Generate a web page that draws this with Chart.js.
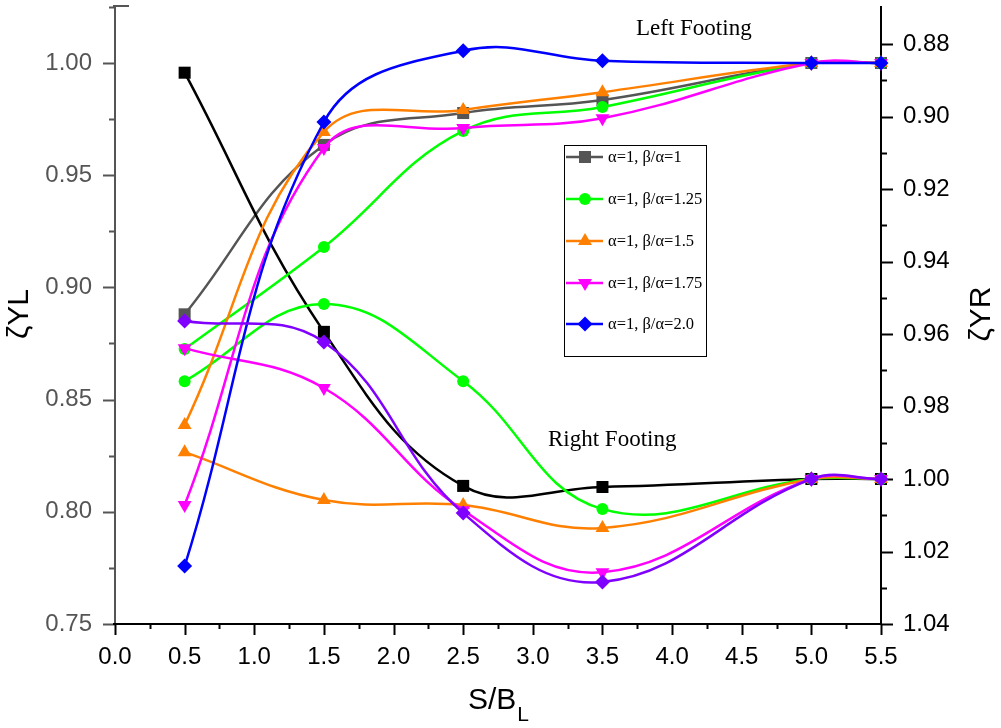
<!DOCTYPE html>
<html><head><meta charset="utf-8">
<script src="https://cdn.jsdelivr.net/npm/chart.js@4.4.0/dist/chart.umd.min.js"></script>
<style>html,body{margin:0;padding:0;background:#fff;}canvas{display:block;}</style>
</head><body>
<canvas id="c" width="1001" height="728"></canvas>
<script>
// ---------- data ----------
const xValues = [0.5, 1.5, 2.5, 3.5, 5.0, 5.5];
const xTickValues = [0, 0.5, 1.0, 1.5, 2.0, 2.5, 3.0, 3.5, 4.0, 4.5, 5.0, 5.5];
const leftTickValues = [0.75, 0.80, 0.85, 0.90, 0.95, 1.00];
const rightTickValues = [0.88, 0.90, 0.92, 0.94, 0.96, 0.98, 1.00, 1.02, 1.04];
const legendLabels = ['α=1, β/α=1', 'α=1, β/α=1.25', 'α=1, β/α=1.5', 'α=1, β/α=1.75', 'α=1, β/α=2.0'];

// Left footing (left axis, ζYL)
const leftB100 = [0.888, 0.9635, 0.9777, 0.9835, 1.000, 1.000];
const leftB125 = [0.8725, 0.918, 0.9697, 0.9804, 1.000, 1.000];
const leftB150 = [0.8387, 0.9693, 0.9791, 0.987, 1.000, 1.000];
const leftB175 = [0.803, 0.9621, 0.971, 0.9754, 1.000, 1.000];
const leftB200 = [0.7758, 0.9737, 1.0055, 1.001, 1.000, 1.000];

// Right footing (right axis, ζYR, reversed)
const rightB100 = [0.8879, 0.9594, 1.0019, 1.0022, 1.000, 1.000];
const rightB125 = [0.973, 0.9517, 0.973, 1.0083, 1.000, 1.000];
const rightB150 = [0.9926, 1.0058, 1.0072, 1.0135, 1.000, 1.000];
const rightB175 = [0.9639, 0.9749, 1.0086, 1.0257, 1.000, 1.000];
const rightB200 = [0.9564, 0.9622, 1.0094, 1.0284, 1.000, 1.000];

// ---------- styles ----------
const GRAY = '#555555', GREEN = '#00ff00', ORANGE = '#ff8000', MAGENTA = '#ff00ff',
      BLUE = '#0000ff', PURPLE = '#8000ff', BLACK = '#000000';

function pts(arr) { return arr.map((v, i) => ({ x: xValues[i], y: v })); }
function ds(label, arr, color, shape, axis, radius, rot) {
  return {
    label, data: pts(arr), yAxisID: axis,
    borderColor: color, backgroundColor: color,
    pointBackgroundColor: color, pointBorderColor: color,
    pointStyle: shape, pointRadius: radius, pointRotation: rot || 0,
    pointBorderWidth: 0, borderWidth: 2.5, tension: 0.4, clip: false,
  };
}

const datasets = [
  ds('R 2.0', rightB200, PURPLE, 'rectRot', 'y2', 7.5),
  ds('L 2.0', leftB200, BLUE, 'rectRot', 'y', 7.5),
  ds('R 1.75', rightB175, MAGENTA, 'triangle', 'y2', 8, 180),
  ds('L 1.75', leftB175, MAGENTA, 'triangle', 'y', 8, 180),
  ds('R 1.5', rightB150, ORANGE, 'triangle', 'y2', 8),
  ds('L 1.5', leftB150, ORANGE, 'triangle', 'y', 8),
  ds('R 1.25', rightB125, GREEN, 'circle', 'y2', 6),
  ds('L 1.25', leftB125, GREEN, 'circle', 'y', 6),
  ds('R 1', rightB100, BLACK, 'rect', 'y2', 8.5),
  ds('L 1', leftB100, GRAY, 'rect', 'y', 8.5),
];

const legendStyles = [
  { color: GRAY, shape: 'rect' },
  { color: GREEN, shape: 'circle' },
  { color: ORANGE, shape: 'triangle' },
  { color: MAGENTA, shape: 'down' },
  { color: BLUE, shape: 'diamond' },
];

function drawMarker(ctx, shape, x, y, color) {
  ctx.save();
  ctx.fillStyle = color;
  ctx.beginPath();
  if (shape === 'rect') { ctx.rect(x - 6, y - 6, 12, 12); }
  else if (shape === 'circle') { ctx.arc(x, y, 6, 0, Math.PI * 2); }
  else if (shape === 'triangle') { ctx.moveTo(x, y - 8); ctx.lineTo(x + 7, y + 4); ctx.lineTo(x - 7, y + 4); ctx.closePath(); }
  else if (shape === 'down') { ctx.moveTo(x, y + 8); ctx.lineTo(x + 7, y - 4); ctx.lineTo(x - 7, y - 4); ctx.closePath(); }
  else if (shape === 'diamond') { ctx.moveTo(x, y - 7.5); ctx.lineTo(x + 7.5, y); ctx.lineTo(x, y + 7.5); ctx.lineTo(x - 7.5, y); ctx.closePath(); }
  ctx.fill();
  ctx.restore();
}

const framePlugin = {
  id: 'frame',
  beforeDatasetsDraw(chart) {
    const ctx = chart.ctx, a = chart.chartArea;
    const xs = chart.scales.x, yl = chart.scales.y, yr = chart.scales.y2;
    ctx.save();
    ctx.lineCap = 'butt';
    // left axis (gray)
    ctx.strokeStyle = '#555555'; ctx.lineWidth = 2;
    ctx.beginPath(); ctx.moveTo(a.left, a.top); ctx.lineTo(a.left, a.bottom); ctx.stroke();
    ctx.beginPath(); ctx.moveTo(a.left - 2, a.top); ctx.lineTo(a.left + 14, a.top); ctx.stroke();
    for (let v = 0.75; v <= 1.0251; v += 0.025) {
      const major = Math.abs(Math.round(v / 0.05) * 0.05 - v) < 1e-6;
      const py = Math.round(yl.getPixelForValue(v)) + 0.5;
      ctx.beginPath(); ctx.moveTo(a.left, py); ctx.lineTo(a.left - (major ? 12 : 6), py); ctx.stroke();
    }
    // right axis (black)
    ctx.strokeStyle = '#000000';
    ctx.beginPath(); ctx.moveTo(a.right, a.top); ctx.lineTo(a.right, a.bottom); ctx.stroke();
    for (let k = 0; k <= 16; k++) {
      const v = 0.88 + k * 0.01;
      const major = k % 2 === 0;
      const py = Math.round(yr.getPixelForValue(v)) + 0.5;
      ctx.beginPath(); ctx.moveTo(a.right, py); ctx.lineTo(a.right + (major ? 12 : 6), py); ctx.stroke();
    }
    // bottom axis
    ctx.beginPath(); ctx.moveTo(a.left - 2, a.bottom); ctx.lineTo(a.right + 1, a.bottom); ctx.stroke();
    for (let k = 0; k <= 22; k++) {
      const v = k * 0.25;
      const major = k % 2 === 0;
      const px = Math.round(xs.getPixelForValue(v)) + 0.5;
      ctx.beginPath(); ctx.moveTo(px, a.bottom); ctx.lineTo(px, a.bottom + (major ? 11 : 5)); ctx.stroke();
    }
    ctx.restore();
  },
  afterDraw(chart) {
    const ctx = chart.ctx, a = chart.chartArea;
    ctx.save();
    // axis titles
    ctx.fillStyle = '#000';
    ctx.font = '30px "Liberation Sans", Arial, sans-serif';
    ctx.textAlign = 'center'; ctx.textBaseline = 'middle';
    ctx.save(); ctx.translate(20, 314); ctx.rotate(-Math.PI / 2); ctx.fillText('ζYL', 0, 0); ctx.restore();
    ctx.save(); ctx.translate(982, 314); ctx.rotate(-Math.PI / 2); ctx.fillText('ζYR', 0, 0); ctx.restore();
    // x title with subscript
    const cx = (a.left + a.right) / 2;
    ctx.textBaseline = 'alphabetic'; ctx.textAlign = 'left';
    const main = 'S/B';
    ctx.font = '30px "Liberation Sans", Arial, sans-serif';
    const w1 = ctx.measureText(main).width;
    ctx.font = '21px "Liberation Sans", Arial, sans-serif';
    const w2 = ctx.measureText('L').width;
    const sx = cx - (w1 + w2) / 2;
    ctx.font = '30px "Liberation Sans", Arial, sans-serif';
    ctx.fillText(main, sx, 709);
    ctx.font = '21px "Liberation Sans", Arial, sans-serif';
    ctx.fillText('L', sx + w1 + 1, 721);
    // annotations
    ctx.font = '23px "Liberation Serif", "Times New Roman", serif';
    ctx.textBaseline = 'middle';
    ctx.fillText('Left Footing', 636, 29);
    ctx.fillText('Right Footing', 548, 440);
    // legend
    ctx.fillStyle = '#fff';
    ctx.fillRect(564, 145, 143, 212);
    ctx.strokeStyle = '#000'; ctx.lineWidth = 1;
    ctx.strokeRect(564.5, 145.5, 142, 211);
    const rows = [157, 199, 241, 283, 324];
    ctx.font = '16.5px "Liberation Serif", "Times New Roman", serif';
    legendStyles.forEach((s, i) => {
      const y = rows[i];
      ctx.strokeStyle = s.color; ctx.lineWidth = 2.5;
      ctx.beginPath(); ctx.moveTo(566, y); ctx.lineTo(603, y); ctx.stroke();
      drawMarker(ctx, s.shape, 585, y, s.color);
      ctx.fillStyle = '#000';
      ctx.textAlign = 'left'; ctx.textBaseline = 'middle';
      ctx.fillText(legendLabels[i], 608, y + 1);
    });
    ctx.restore();
  }
};

const tickFont = { family: '"Liberation Sans", Arial, sans-serif', size: 24 };
const hiddenGrid = (len) => ({ display: false, drawTicks: true, tickLength: len, color: 'rgba(0,0,0,0)' });
const noPad = s => { s.paddingTop = 0; s.paddingBottom = 0; s.paddingLeft = 0; s.paddingRight = 0; };

new Chart(document.getElementById('c'), {
  type: 'line',
  data: { datasets },
  options: {
    responsive: false, animation: false,
    layout: { autoPadding: false, padding: { top: 6, left: 0, right: 0, bottom: 0 } },
    plugins: { legend: { display: false }, tooltip: { enabled: false } },
    scales: {
      x: {
        type: 'linear', min: 0, max: 5.5,
        afterBuildTicks: s => { s.ticks = xTickValues.map(v => ({ value: v })); },
        afterFit: s => { s.height = 104; noPad(s); },
        grid: hiddenGrid(19), border: { display: false },
        ticks: { font: tickFont, color: '#000', padding: 0, maxRotation: 0, autoSkip: false,
                 callback: v => Number(v).toFixed(1) },
      },
      y: {
        type: 'linear', position: 'left', min: 0.75, max: 1.0254,
        afterBuildTicks: s => { s.ticks = leftTickValues.map(v => ({ value: v })); },
        afterFit: s => { s.width = 115; noPad(s); },
        grid: hiddenGrid(23), border: { display: false },
        ticks: { font: tickFont, color: '#555555', padding: 0, autoSkip: false,
                 callback: v => Number(v).toFixed(2) },
      },
      y2: {
        type: 'linear', position: 'right', reverse: true, min: 0.8695, max: 1.04,
        afterBuildTicks: s => { s.ticks = rightTickValues.map(v => ({ value: v })); },
        afterFit: s => { s.width = 120; noPad(s); },
        grid: hiddenGrid(22), border: { display: false },
        ticks: { font: tickFont, color: '#000', padding: 0, autoSkip: false,
                 callback: v => Number(v).toFixed(2) },
      },
    },
  },
  plugins: [framePlugin],
});
</script>
</body></html>
